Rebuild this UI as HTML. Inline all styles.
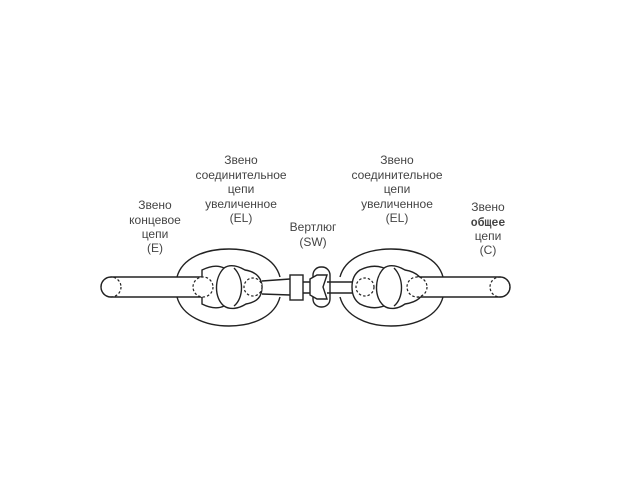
<!DOCTYPE html>
<html><head><meta charset="utf-8"><style>
html,body{margin:0;padding:0;background:#fff;}
svg{display:block}
text{font-family:"Liberation Sans","DejaVu Sans",sans-serif;font-size:12px;fill:#444;text-anchor:middle}
</style></head><body>
<svg width="640" height="480" viewBox="0 0 640 480" xmlns="http://www.w3.org/2000/svg">
<g fill="none" stroke="#222" stroke-width="1.4">
<path d="M111 277 H203 M111 297 H203" />
<circle cx="111" cy="287" r="10" stroke-dasharray="2.5 2" stroke-width="1.2"/>
<path d="M177 277 C182 258 205 249 229 249 C254 249 275 258 280 277 M177 297 C182 316 205 326 229 326 C254 326 275 316 280 297"/>
<path d="M202 270 C210 266 218 265 224 268 C230 264 238 266 245 270 C258 272 262 280 262 287 C262 296 258 302 246 304 C238 309 230 310 224 306 C218 309 210 308 202 304 Z" fill="#fff"/>
<path d="M224 268 C214 278 214 298 224 306 M234 268 C244 278 244 298 234 306"/>
<circle cx="203" cy="287" r="10" stroke-dasharray="2.5 2" stroke-width="1.2" fill="#fff"/>
<circle cx="253" cy="287" r="9" stroke-dasharray="2.5 2" stroke-width="1.2" fill="#fff"/>
<path d="M262 281 L290 279 M262 294 L290 295"/>
<rect x="290" y="275" width="13" height="25" fill="#fff"/>
<path d="M303 282 H310 M303 293 H310"/>
<rect x="313" y="267" width="17" height="40" rx="8" fill="#fff"/>
<path d="M310 279 L317 275 H327 L323 287 L327 299 H317 L310 295 Z" fill="#fff"/>
<path d="M327 282 H360 M327 293 H360"/>
<path d="M340 277 C345 258 367 249 391 249 C416 249 438 258 443 277 M340 297 C345 316 367 326 391 326 C416 326 438 316 443 297"/>
<path d="M360 270 C368 266 376 265 384 268 C390 264 398 266 405 270 C418 272 424 280 424 287 C424 296 418 302 405 304 C398 309 390 310 384 306 C376 309 368 308 360 304 C354 300 352 294 352 287 C352 280 354 274 360 270 Z" fill="#fff"/>
<path d="M384 268 C374 278 374 298 384 306 M394 268 C404 278 404 298 394 306"/>
<circle cx="365" cy="287" r="9" stroke-dasharray="2.5 2" stroke-width="1.2" fill="#fff"/>
<path d="M417 277 H500 M417 297 H500"/>
<path d="M500 277 A10 10 0 0 1 500 297"/>
<circle cx="500" cy="287" r="10" stroke-dasharray="2.5 2" stroke-width="1.2"/>
<circle cx="417" cy="287" r="10" stroke-dasharray="2.5 2" stroke-width="1.2" fill="#fff"/>
<path d="M111 277 A10 10 0 0 0 111 297"/>
</g>
<text x="155" y="209">Звено</text>
<text x="155" y="224">концевое</text>
<text x="155" y="238">цепи</text>
<text x="155" y="252">(E)</text>
<text x="241" y="164">Звено</text>
<text x="241" y="179">соединительное</text>
<text x="241" y="193">цепи</text>
<text x="241" y="208">увеличенное</text>
<text x="241" y="222">(EL)</text>
<text x="313" y="231">Вертлюг</text>
<text x="313" y="246">(SW)</text>
<text x="397" y="164">Звено</text>
<text x="397" y="179">соединительное</text>
<text x="397" y="193">цепи</text>
<text x="397" y="208">увеличенное</text>
<text x="397" y="222">(EL)</text>
<text x="488" y="211">Звено</text>
<text x="488" y="226" style="font-family:'Liberation Mono',monospace;font-weight:bold;font-size:11.5px">общее</text>
<text x="488" y="240">цепи</text>
<text x="488" y="254">(C)</text>
</svg>
</body></html>
